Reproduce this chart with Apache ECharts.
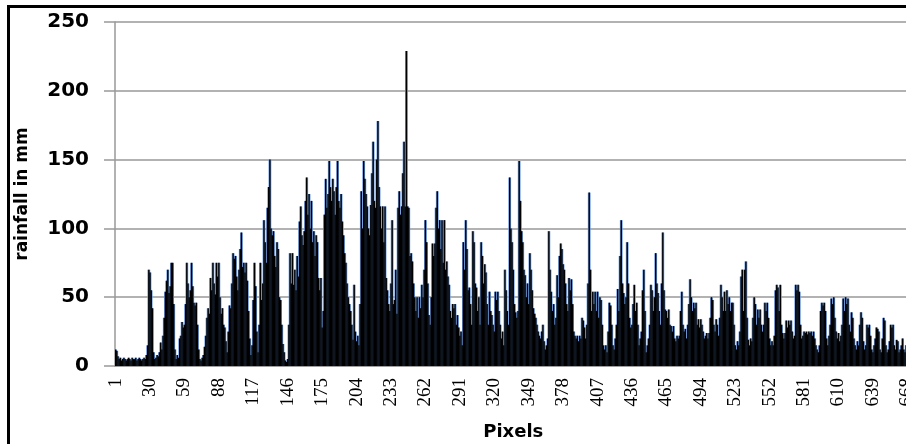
<!DOCTYPE html>
<html>
<head>
<meta charset="utf-8">
<script src="https://cdn.jsdelivr.net/npm/echarts@6/dist/echarts.min.js"></script>
<style>html,body{margin:0;padding:0;background:#fff;}#c{width:906px;height:444px;}</style>
</head>
<body>
<div id="c"></div>
<script>
// rainfall (mm) per pixel, pixels 1..671
const rainA = [12,11,7,5,6,4,5,6,5,4, 5,6,5,4,6,5,5,6,4,5, 6,5,4,5,6,5,8,15,70,68,
  55,42,10,5,6,8,7,10,17,12, 22,35,54,62,70,53,58,75,75,45, 12,5,8,6,20,22,32,28,30,45,
  75,60,50,55,75,58,46,44,46,30, 12,5,4,6,8,14,22,35,42,38, 64,55,75,60,52,75,65,75,50,38,
  42,30,28,18,10,25,44,42,60,82];
const rainB = [78,80,65,55,70,85,97,72,75,68, 75,62,40,20,8,15,48,75,58,25,
  10,30,75,48,60,106,90,75,115,130, 150,100,95,98,80,72,90,85,50,48, 30,16,10,4,3,5,30,82,60,82,
  59,70,55,80,65,105,116,95,88,98, 120,137,110,125,100,120,90,98,80,95, 90,64,55,64,28,40,110,136,115,125,
  149,130,120,136,127,110,130,149,120,115, 125,105,95,82,75,60,50,45,40,30];
const rainC = [19,59,25,18,22,15,45,127,100,149, 136,125,116,100,95,117,140,163,120,115,
  150,178,130,116,100,116,90,116,64,55, 45,40,60,106,45,48,70,38,115,127, 110,116,140,163,116,229,116,115,80,82,
  76,60,50,40,50,35,50,42,59,50, 70,106,90,60,37,30,50,89,80,89, 115,127,100,106,85,106,75,106,70,76,
  65,59,40,35,45,42,45,30,37,28, 22,25,15,90,70,106,85,55,57,45];
const rainD = [30,98,90,60,57,40,50,30,90,80, 60,74,68,45,30,54,40,37,30,25,
  54,48,54,40,30,20,25,15,70,55, 40,30,137,100,90,70,45,39,35,40, 149,120,98,90,70,66,50,60,45,82,
  70,55,42,38,35,30,25,22,20,25, 30,18,12,15,20,98,70,54,40,45, 30,35,66,50,80,89,85,74,70,60,
  45,40,64,55,63,45,25,22,20,22, 18,22,20,35,33,28,20,30,60,126];
const rainE = [70,40,54,45,54,40,54,35,50,48, 30,15,12,15,10,25,46,44,30,15,
  12,20,30,56,40,80,106,60,53,45, 50,90,60,35,28,30,45,59,40,46, 30,15,20,25,55,70,40,10,15,20,
  30,59,55,40,50,82,60,53,40,30, 60,97,55,41,40,35,41,30,29,25, 29,20,18,22,20,22,40,54,30,25,
  27,20,30,45,63,50,40,46,42,46, 30,34,28,34,30,25,20,22,24,20];
const rainF = [24,35,50,48,30,25,34,30,22,35, 59,50,40,54,40,55,45,50,40,46,
  46,30,15,12,18,15,25,65,70,40, 70,76,35,19,15,20,18,35,50,45, 30,41,35,41,30,25,30,46,40,46,
  35,20,15,18,15,22,55,59,57,40, 59,30,24,20,24,33,28,33,30,33, 25,20,22,59,55,59,54,30,20,22,
  25,24,25,23,25,24,25,22,25,20, 15,12,10,15,40,46,44,46,40,20];
const rainG = [15,22,30,49,45,50,35,25,20,24, 18,22,30,49,40,50,45,49,30,25,
  39,35,20,15,12,18,15,30,39,35, 18,12,15,30,28,30,22,12,10,15, 20,28,27,25,12,10,20,35,33,15,
  10,12,18,30,28,30,15,12,19,18, 10,12,15,20,12,10,15,18,12,10,14];

const rainfall = [].concat(rainA, rainB, rainC, rainD, rainE, rainF, rainG);
const pixels = rainfall.map((v, i) => String(i + 1));
const yTicks = [0, 50, 100, 150, 200, 250];

const chart = echarts.init(document.getElementById('c'), null, {renderer: 'canvas'});
const xBase = {
  type: 'category', data: pixels, gridIndex: 0
};
chart.setOption({
  animation: false,
  backgroundColor: '#fff',
  grid: {left: 115, top: 22, bottom: 78, width: 796.5, containLabel: false, outerBoundsMode: 'none'},
  xAxis: [
    Object.assign({}, xBase, {
      name: 'Pixels', nameLocation: 'middle', nameGap: 57,
      nameTextStyle: {fontFamily: 'DejaVu Sans', fontWeight: 'bold', fontSize: 18, color: '#000'},
      axisLine: {show: true, lineStyle: {color: '#999', width: 1.5}},
      axisTick: {show: false},
      axisLabel: {interval: 28, rotate: 90, margin: 12, fontFamily: 'Liberation Serif', fontSize: 19, color: '#000'},
      splitLine: {show: false}
    }),
    Object.assign({}, xBase, {show: false})
  ],
  yAxis: {
    type: 'value', min: yTicks[0], max: yTicks[yTicks.length - 1], interval: 50,
    name: 'rainfall in mm', nameLocation: 'middle', nameGap: 84,
    nameTextStyle: {fontFamily: 'DejaVu Sans', fontWeight: 'bold', fontSize: 17, color: '#000'},
    axisLine: {show: true, lineStyle: {color: '#999', width: 1.5}},
    axisTick: {show: true, length: 11, lineStyle: {color: '#999', width: 1.5}},
    axisLabel: {margin: 26, fontFamily: 'DejaVu Sans', fontWeight: 'bold', fontSize: 20, color: '#000'},
    splitLine: {show: true, lineStyle: {color: '#999', width: 1.5}}
  },
  series: [
    {type: 'bar', xAxisIndex: 0, data: rainfall, barWidth: 2.8, itemStyle: {color: '#6a98dc'}, silent: true},
    {type: 'bar', xAxisIndex: 1, data: rainfall, barWidth: 1.4, itemStyle: {color: '#000'}, silent: true}
  ],
  graphic: [{
    type: 'rect', z: 100,
    shape: {x: 8.5, y: 6.5, width: 1200, height: 1200},
    style: {fill: 'none', stroke: '#000', lineWidth: 3}
  }]
});
</script>
</body>
</html>
